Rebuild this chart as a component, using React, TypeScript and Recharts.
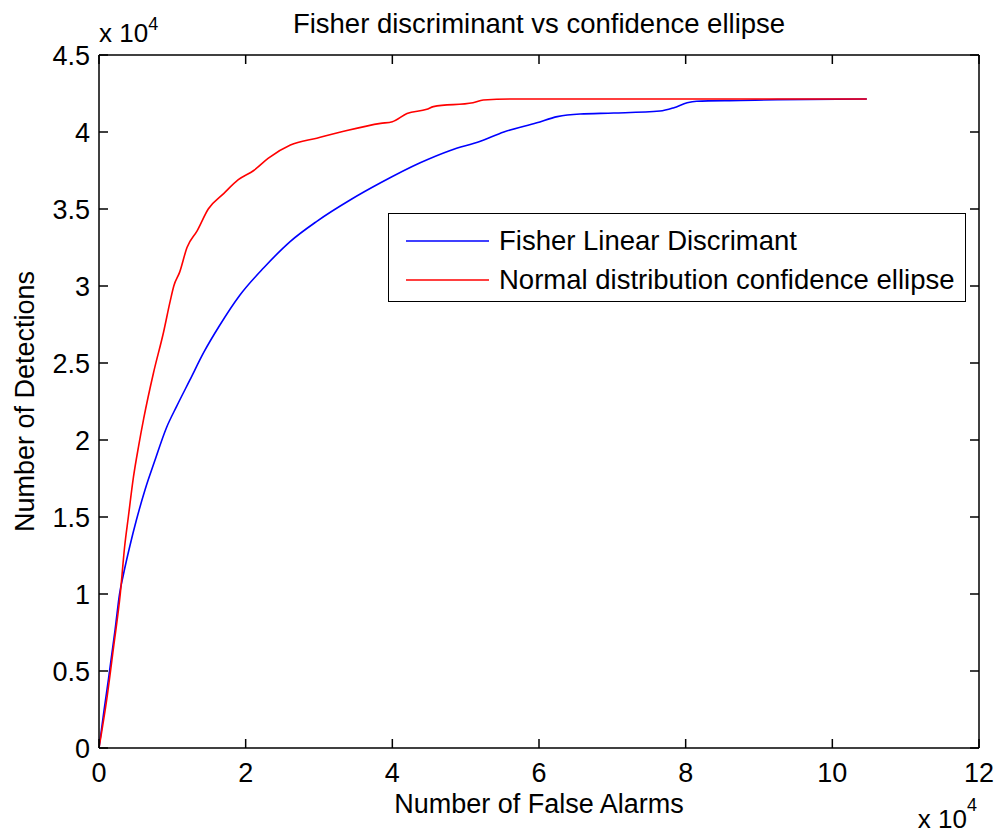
import { Legend, Line, LineChart, XAxis, YAxis } from 'recharts'

const FONT = '"Liberation Sans", Arial, Helvetica, sans-serif'
const INK = '#000000'
const TICK_LEN = 9

// all values in units of 1e4 (axes carry the "x 10^4" multiplier)
const fisherFalseAlarms = [
  0, 0.07, 0.13, 0.22, 0.28, 0.33, 0.42, 0.51, 0.63, 0.75, 0.92, 1.06, 1.24, 1.43,
  1.64, 1.92, 2.25, 2.61, 2.97, 3.43, 3.84, 4.38, 4.79, 5.2, 5.52, 5.97, 6.25, 6.56,
  7.02, 7.65, 7.84, 8.02, 8.15, 8.75, 9.25, 10.47,
]
const fisherDetections = [
  0, 0.25, 0.45, 0.77, 1.0, 1.12, 1.31, 1.48, 1.68, 1.85, 2.08, 2.22, 2.39, 2.57,
  2.74, 2.94, 3.12, 3.29, 3.42, 3.56, 3.67, 3.8, 3.88, 3.94, 4.0, 4.06, 4.1, 4.117,
  4.123, 4.136, 4.158, 4.19, 4.2, 4.205, 4.21, 4.214,
]

const ellipseFalseAlarms = [
  0, 0.11, 0.2, 0.29, 0.35, 0.4, 0.47, 0.54, 0.61, 0.745, 0.88, 0.97, 1.02, 1.1,
  1.2, 1.34, 1.49, 1.7, 1.9, 2.11, 2.31, 2.61, 2.97, 3.38, 3.84, 4.0, 4.2, 4.47,
  4.56, 5.1, 5.24, 5.65, 10.47,
]
const ellipseDetections = [
  0, 0.33, 0.66, 1.0, 1.31, 1.5, 1.76, 1.96, 2.14, 2.44, 2.7, 2.9, 3.0, 3.09,
  3.25, 3.36, 3.5, 3.6, 3.69, 3.75, 3.83, 3.915, 3.96, 4.01, 4.056, 4.067, 4.12,
  4.147, 4.165, 4.19, 4.208, 4.214, 4.214,
]

const xTicks = [0, 2, 4, 6, 8, 10, 12]
const yTicks = [0, 0.5, 1, 1.5, 2, 2.5, 3, 3.5, 4, 4.5]

const fisher = fisherFalseAlarms.map((x, i) => ({ x, y: fisherDetections[i] }))
const ellipse = ellipseFalseAlarms.map((x, i) => ({ x, y: ellipseDetections[i] }))

const lineStyle = { stroke: INK, strokeWidth: 1.5 }
const txt = { fill: INK, fontFamily: FONT }

// matlab style: tick marks point into the plot box
function BottomTick({ x, y, payload }: any) {
  return (
    <g>
      <line x1={x} x2={x} y1={y} y2={y - TICK_LEN} {...lineStyle} />
      <text x={x} y={y + 34} textAnchor="middle" fontSize={27} {...txt}>{payload.value}</text>
    </g>
  )
}

function LeftTick({ x, y, payload }: any) {
  return (
    <g>
      <line x1={x} x2={x + TICK_LEN} y1={y} y2={y} {...lineStyle} />
      <text x={x - 9} y={y + 9.5} textAnchor="end" fontSize={27} {...txt}>{payload.value}</text>
    </g>
  )
}

function TopTick({ x, y }: any) {
  return <line x1={x} x2={x} y1={y} y2={y + TICK_LEN} {...lineStyle} />
}

function RightTick({ x, y }: any) {
  return <line x1={x} x2={x - TICK_LEN} y1={y} y2={y} {...lineStyle} />
}

function BottomLabel({ viewBox }: any) {
  const { x, y, width } = viewBox
  return (
    <g>
      <text x={x + width / 2} y={y + 65} textAnchor="middle" fontSize={27} {...txt}>
        Number of False Alarms
      </text>
      <text x={x + width - 2} y={y + 80} textAnchor="end" fontSize={26} {...txt}>
        x 10<tspan dy={-17} fontSize={18}>4</tspan>
      </text>
    </g>
  )
}

function LeftLabel({ viewBox }: any) {
  const { x, y, width, height } = viewBox
  const cy = y + height / 2
  return (
    <g>
      <text x={34} y={cy} transform={`rotate(-90 34 ${cy})`} textAnchor="middle"
        fontSize={27} {...txt}>
        Number of Detections
      </text>
      <text x={x + width} y={y - 13} fontSize={26} {...txt}>
        x 10<tspan dy={-12} fontSize={18}>4</tspan>
      </text>
    </g>
  )
}

function TitleLabel({ viewBox }: any) {
  const { x, y, width, height } = viewBox
  return (
    <text x={x + width / 2} y={y + height - 22} textAnchor="middle" fontSize={27.5} {...txt}>
      Fisher discriminant vs confidence ellipse
    </text>
  )
}

function LegendBox({ payload }: any) {
  return (
    <div style={{
      width: '100%', height: '100%', boxSizing: 'border-box', background: '#fff',
      border: `1.5px solid ${INK}`, paddingTop: 7, fontFamily: FONT, fontSize: 27.5,
      color: INK,
    }}>
      {(payload ?? []).map((p: any) => (
        <div key={p.value} style={{ height: 39, display: 'flex', alignItems: 'center' }}>
          <svg width={93} height={10} style={{ marginLeft: 17, flex: 'none' }}>
            <line x1={0} x2={83} y1={5} y2={5} stroke={p.color} strokeWidth={1.6} />
          </svg>
          <span style={{ whiteSpace: 'nowrap' }}>{p.value}</span>
        </div>
      ))}
    </div>
  )
}

export default function App() {
  return (
    <div style={{ position: 'absolute', left: 0, top: 0, background: '#fff' }}>
      <LineChart width={999} height={834} margin={{ top: 54, right: 19, bottom: 0, left: 0 }}>
        <XAxis xAxisId="bottom" type="number" dataKey="x" domain={[0, 12]} ticks={xTicks}
          interval={0} allowDataOverflow height={86} tick={BottomTick} axisLine={lineStyle}
          tickLine={false} tickSize={0} tickMargin={0} label={BottomLabel} />
        <XAxis xAxisId="top" orientation="top" type="number" dataKey="x" domain={[0, 12]}
          ticks={xTicks} interval={0} allowDataOverflow height={1} tick={TopTick}
          axisLine={lineStyle} tickLine={false} tickSize={0} tickMargin={0}
          label={TitleLabel} />
        <YAxis yAxisId="left" type="number" domain={[0, 4.5]} ticks={yTicks} interval={0}
          allowDataOverflow width={99} tick={LeftTick} axisLine={lineStyle}
          tickLine={false} tickSize={0} tickMargin={0} label={LeftLabel} />
        <YAxis yAxisId="right" orientation="right" type="number" domain={[0, 4.5]}
          ticks={yTicks} interval={0} allowDataOverflow width={1} tick={RightTick}
          axisLine={lineStyle} tickLine={false} tickSize={0} tickMargin={0} />
        <Legend layout="vertical" align="center" verticalAlign="middle"
          content={LegendBox}
          wrapperStyle={{ left: 388, top: 213, width: 578, height: 89 }} />
        <Line xAxisId="bottom" yAxisId="left" data={fisher} dataKey="y"
          name="Fisher Linear Discrimant" type="monotoneX" stroke="#0000ff" strokeWidth={1.6}
          dot={false} activeDot={false} isAnimationActive={false} />
        <Line xAxisId="bottom" yAxisId="left" data={ellipse} dataKey="y"
          name="Normal distribution confidence ellipse" type="monotoneX" stroke="#ff0000"
          strokeWidth={1.6} dot={false} activeDot={false} isAnimationActive={false} />
      </LineChart>
    </div>
  )
}
